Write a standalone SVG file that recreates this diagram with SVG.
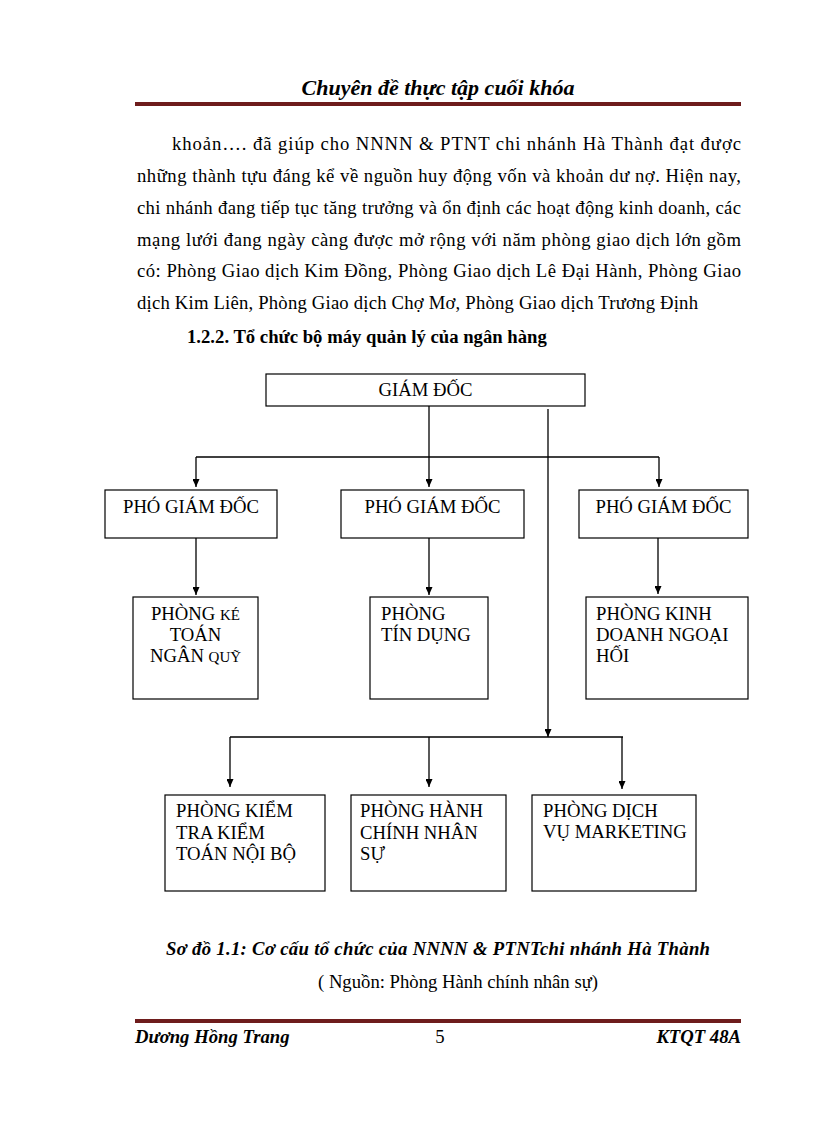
<svg xmlns="http://www.w3.org/2000/svg" width="816" height="1123" viewBox="0 0 816 1123">
<style>
.t{font-family:"Liberation Serif","Times New Roman",serif;font-size:18.7px;fill:#000}
.b{font-weight:bold}
.bi{font-weight:bold;font-style:italic}
.box{fill:#fff;stroke:#000;stroke-width:1.2}
.c{fill:none;stroke:#000;stroke-width:1.3}
.rule{fill:#6e1c1c}
.sm{font-size:15px}
</style>
<defs>
<marker id="ah" markerUnits="userSpaceOnUse" markerWidth="8" markerHeight="7" viewBox="0 0 8 7" refX="8" refY="3.5" orient="auto">
<path d="M0,0 L8,3.5 L0,7 z" fill="#000"/>
</marker>
</defs>
<rect width="816" height="1123" fill="#fff"/>

<g id="header">
<text class="t bi" x="438" y="95" text-anchor="middle" style="font-size:22px">Chuyên đề thực tập cuối khóa</text>
<rect class="rule" x="135" y="102" width="606" height="4"/>
</g>

<g id="body">
<text class="t" x="172" y="150" textLength="569" lengthAdjust="spacing">khoản…. đã giúp cho NNNN &amp; PTNT chi nhánh Hà Thành đạt được</text>
<text class="t" x="137" y="182" textLength="604" lengthAdjust="spacing">những thành tựu đáng kể về nguồn huy động vốn và khoản dư nợ. Hiện nay,</text>
<text class="t" x="137" y="214" textLength="604" lengthAdjust="spacing">chi nhánh đang tiếp tục tăng trưởng và ổn định các hoạt động kinh doanh, các</text>
<text class="t" x="137" y="246" textLength="604" lengthAdjust="spacing">mạng lưới đang ngày càng được mở rộng với năm phòng giao dịch lớn gồm</text>
<text class="t" x="137" y="277" textLength="604" lengthAdjust="spacing">có: Phòng Giao dịch Kim Đồng, Phòng Giao dịch Lê Đại Hành, Phòng Giao</text>
<text class="t" x="137" y="309" textLength="561" lengthAdjust="spacing">dịch Kim Liên, Phòng Giao dịch Chợ Mơ, Phòng Giao dịch Trương Định</text>
<text class="t b" x="187" y="343">1.2.2. Tổ chức bộ máy quản lý của ngân hàng</text>
</g>

<g id="connectors">
<path class="c" d="M429,406 V487" marker-end="url(#ah)"/>
<path class="c" d="M548,409 V737" marker-end="url(#ah)"/>
<path class="c" d="M196,457 H659"/>
<path class="c" d="M196,457 V487" marker-end="url(#ah)"/>
<path class="c" d="M659,457 V487" marker-end="url(#ah)"/>
<path class="c" d="M196,538 V595" marker-end="url(#ah)"/>
<path class="c" d="M429,538 V595" marker-end="url(#ah)"/>
<path class="c" d="M658,538 V594" marker-end="url(#ah)"/>
<path class="c" d="M230,737 H623"/>
<path class="c" d="M230,737 V787" marker-end="url(#ah)"/>
<path class="c" d="M429,737 V787" marker-end="url(#ah)"/>
<path class="c" d="M622,737 V789" marker-end="url(#ah)"/>
</g>

<g id="giam-doc">
<rect class="box" x="266" y="374" width="319" height="32"/>
<text class="t" x="425.5" y="396" text-anchor="middle">GIÁM ĐỐC</text>
</g>

<g id="pho-giam-doc-1">
<rect class="box" x="105" y="490" width="172" height="48"/>
<text class="t" x="191" y="513" text-anchor="middle">PHÓ GIÁM ĐỐC</text>
</g>
<g id="pho-giam-doc-2">
<rect class="box" x="341" y="490" width="183" height="48"/>
<text class="t" x="432.5" y="513" text-anchor="middle">PHÓ GIÁM ĐỐC</text>
</g>
<g id="pho-giam-doc-3">
<rect class="box" x="579" y="490" width="169" height="48"/>
<text class="t" x="663.5" y="513" text-anchor="middle">PHÓ GIÁM ĐỐC</text>
</g>

<g id="phong-ke-toan">
<rect class="box" x="133" y="597" width="125" height="102"/>
<text class="t" x="195.5" y="620" text-anchor="middle">PHÒNG <tspan class="sm">KÉ</tspan></text>
<text class="t" x="195.5" y="641" text-anchor="middle">TOÁN</text>
<text class="t" x="195.5" y="662" text-anchor="middle">NGÂN <tspan class="sm">QUỸ</tspan></text>
</g>
<g id="phong-tin-dung">
<rect class="box" x="370" y="597" width="118" height="102"/>
<text class="t" x="381" y="620">PHÒNG</text>
<text class="t" x="381" y="641">TÍN DỤNG</text>
</g>
<g id="phong-kinh-doanh">
<rect class="box" x="586" y="597" width="162" height="102"/>
<text class="t" x="596" y="620">PHÒNG KINH</text>
<text class="t" x="596" y="641">DOANH NGOẠI</text>
<text class="t" x="596" y="662">HỐI</text>
</g>

<g id="phong-kiem-tra">
<rect class="box" x="165" y="795" width="160" height="96"/>
<text class="t" x="176" y="817">PHÒNG KIỂM</text>
<text class="t" x="176" y="839">TRA KIỂM</text>
<text class="t" x="176" y="860">TOÁN NỘI BỘ</text>
</g>
<g id="phong-hanh-chinh">
<rect class="box" x="351" y="795" width="155" height="96"/>
<text class="t" x="360" y="817">PHÒNG HÀNH</text>
<text class="t" x="360" y="839">CHÍNH NHÂN</text>
<text class="t" x="360" y="860">SỰ</text>
</g>
<g id="phong-dich-vu">
<rect class="box" x="532" y="795" width="164" height="96"/>
<text class="t" x="543" y="817">PHÒNG DỊCH</text>
<text class="t" x="543" y="838">VỤ MARKETING</text>
</g>

<g id="caption">
<text class="t bi" x="166" y="955" textLength="544" lengthAdjust="spacing">Sơ đồ 1.1: Cơ cấu tổ chức của NNNN &amp; PTNTchi nhánh Hà Thành</text>
<text class="t" x="458" y="988" text-anchor="middle">( Nguồn: Phòng Hành chính nhân sự)</text>
</g>

<g id="footer">
<rect class="rule" x="135" y="1019" width="606" height="4"/>
<text class="t bi" x="135" y="1043">Dương Hồng Trang</text>
<text class="t" x="440" y="1043" text-anchor="middle">5</text>
<text class="t bi" x="741" y="1043" text-anchor="end">KTQT 48A</text>
</g>
</svg>
